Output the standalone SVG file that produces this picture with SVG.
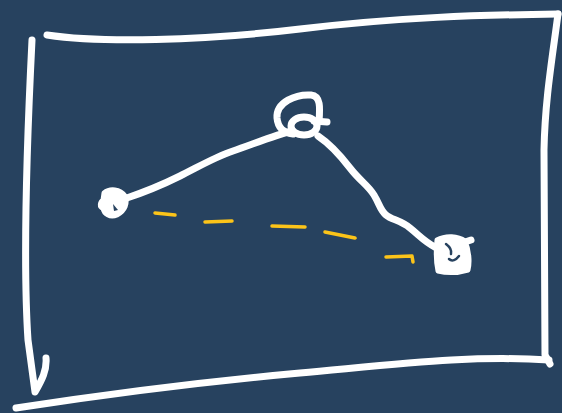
<svg xmlns="http://www.w3.org/2000/svg" width="562" height="413" viewBox="0 0 562 413">
<style>
.w{fill:none;stroke:#ffffff;stroke-width:7;stroke-linecap:round;stroke-linejoin:round}
.f{fill:#ffffff;stroke:#ffffff;stroke-width:5;stroke-linejoin:round}
.d{fill:none;stroke:#27425f;stroke-width:2.5;stroke-linecap:round}
.y{fill:none;stroke:#fcc419;stroke-width:3.5;stroke-linecap:round;stroke-linejoin:round}
</style>
<rect width="562" height="413" fill="#27425f"/>
<g id="frame">
<path class="w" d="M47,35 C100,43 200,41 300,29 S480,15 558,14"/>
<path class="w" d="M558,14 C552,60 545,100 544,150 L545,355 L550,364"/>
<path class="w" d="M549,360 C470,355 400,364 300,373 S100,395 16,408"/>
<path class="w" d="M32,40 C28,120 22,250 28,340 L35,392 C42,380 47,370 46,358"/>
</g>
<g id="connectors">
<path class="w" d="M124,199 C145,192 160,186 180,176 S215,157 233,151 S275,135 292,131"/>
<path class="w" d="M318,136 C330,144 340,155 350,168 S368,185 374,195 S380,210 386,215 S400,220 410,228 S425,242 435,247"/>
<path class="y" d="M155,213 L175,215"/>
<path class="y" d="M205,222 L232,221"/>
<path class="y" d="M272,226 L305,227"/>
<path class="y" d="M325,232 L355,238"/>
<path class="y" d="M386,257 L412,256 L413,262"/>
</g>
<g id="node-start">
<path class="f" d="M104,193 C110,188 120,189 125,196 C128,203 125,211 117,215 C110,218 104,214 103,208 C99,207 100,202 103,200 Z"/>
<path d="M113,204 L118,210 L114,211 Z" fill="#27425f"/>
</g>
<g id="node-peak">
<path class="w" d="M319,122 C320,108 321,96 311,95 C296,94 276,102 277,118 C278,129 285,133 293,134"/>
<ellipse class="w" cx="304" cy="126" rx="13" ry="9"/>
<path class="w" d="M314,121 L327,122"/>
</g>
<g id="node-end">
<path class="f" d="M437,240 C446,235 458,236 465,241 C469,250 470,262 468,270 C458,273 446,273 438,271 C436,262 436,250 437,240 Z"/>
<path class="w" d="M465,242 L471,240"/>
<path class="d" d="M446,244 C450,247 452,250 451,254"/>
<path class="d" d="M449,259 C452,262 456,260 459,256"/>
</g>
</svg>
